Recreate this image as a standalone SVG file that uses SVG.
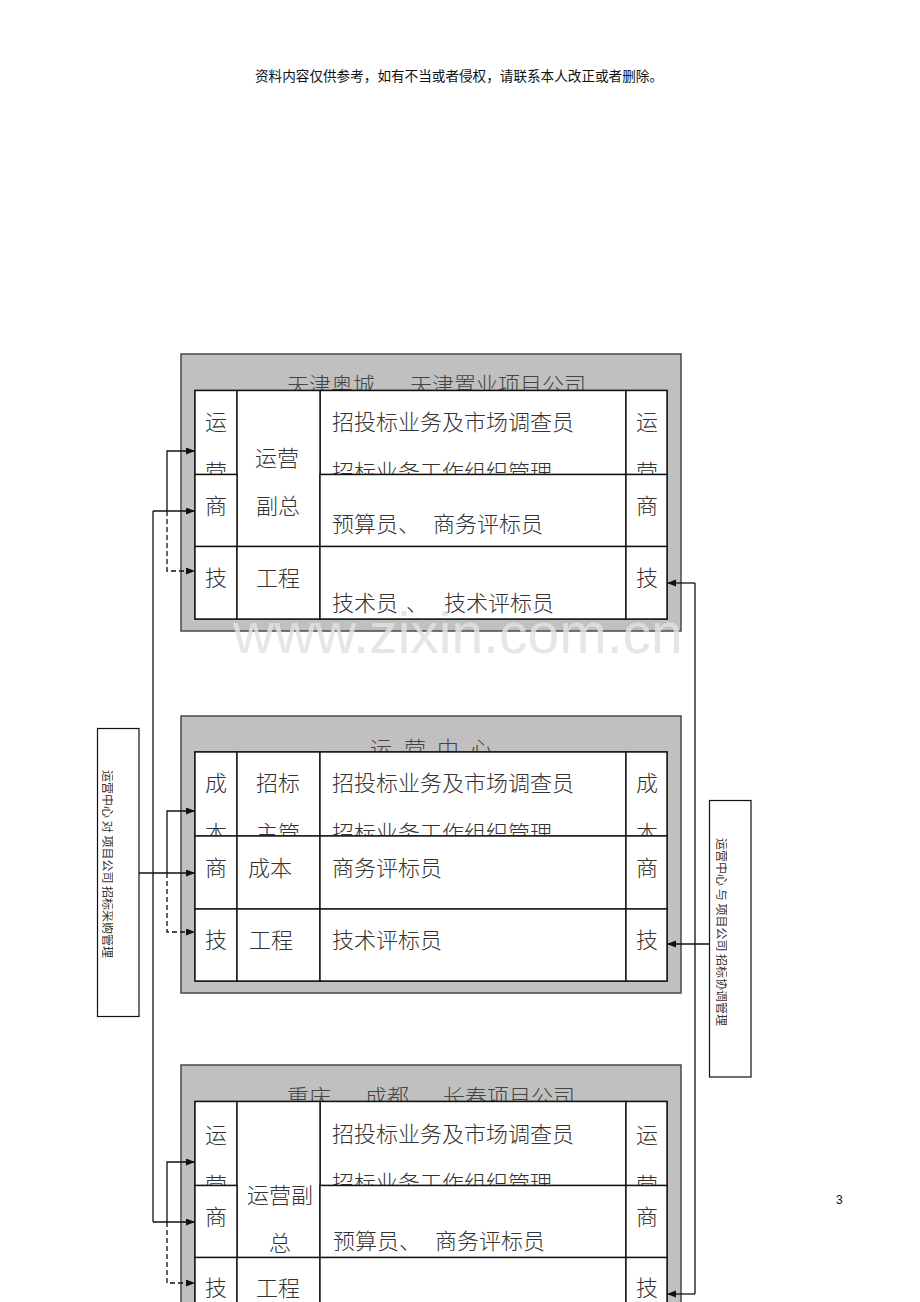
<svg xmlns="http://www.w3.org/2000/svg" width="920" height="1302" viewBox="0 0 920 1302">
<style>
.bg{fill:#ffffff}
.outer{fill:#c0c0c0;stroke:#4a4a4a;stroke-width:1.5}
.cell{fill:#ffffff;stroke:#111;stroke-width:1.4}
.t{font-family:"Noto Sans CJK SC","Noto Sans CJK JP",sans-serif;font-size:22px;fill:#333;font-weight:300}
.tt{font-family:"Noto Sans CJK SC","Noto Sans CJK JP",sans-serif;font-size:22px;fill:#444;font-weight:300}
.m{text-anchor:middle}
.hdr{font-family:"Noto Sans CJK SC","Noto Sans CJK JP",sans-serif;font-size:13.6px;fill:#111}
.box{fill:#ffffff;stroke:#111;stroke-width:1.2}
.vt{font-family:"Noto Sans CJK SC","Noto Sans CJK JP",sans-serif;font-size:12px;fill:#333}
.ln{fill:none;stroke:#111;stroke-width:1.3}
.dl{fill:none;stroke:#111;stroke-width:1.3;stroke-dasharray:5 3}
.wm{font-family:"Liberation Sans",Arial,sans-serif;font-size:57px;fill:#e2e2e2;opacity:0.85}
</style>
<defs>
<marker id="ar" markerUnits="userSpaceOnUse" markerWidth="10" markerHeight="8" refX="9" refY="3.5" orient="auto">
<path d="M0,0 L9,3.5 L0,7 z" fill="#111"/>
</marker>
<clipPath id="clipL"><rect x="102" y="740" width="11" height="260"/></clipPath>
<clipPath id="clipR"><rect x="716" y="810" width="11" height="260"/></clipPath>
</defs>
<rect class="bg" x="0" y="0" width="920" height="1302"/>

<text class="hdr" x="255" y="81" textLength="408">资料内容仅供参考，如有不当或者侵权，请联系本人改正或者删除。</text>
<text x="836" y="1204" style="font-family:'Liberation Sans',Arial,sans-serif;font-size:12px;fill:#111">3</text>

<!-- Block 1 -->
<g id="block-tianjin">
<rect class="outer" x="181" y="354" width="500" height="277"/>
<text class="tt" x="287" y="393">天津奥城</text>
<text class="tt" x="410" y="393">天津置业项目公司</text>
<rect class="cell" x="195" y="390.5" width="472" height="228.5"/>
<rect class="cell" x="195" y="390.5" width="42" height="84"/>
<text class="t m" x="216" y="430">运</text><text class="t m" x="216" y="480">营</text>
<rect class="cell" x="320" y="390.5" width="306" height="84"/>
<text class="t" x="332" y="430">招投标业务及市场调查员</text>
<text class="t" x="332" y="480">招标业务工作组织管理</text>
<rect class="cell" x="626" y="390.5" width="41" height="84"/>
<text class="t m" x="647" y="430">运</text><text class="t m" x="647" y="480">营</text>
<rect class="cell" x="237" y="390.5" width="83" height="156"/>
<text class="t m" x="277" y="466">运营</text><text class="t m" x="278" y="514">副总</text>
<rect class="cell" x="195" y="474.5" width="42" height="72"/>
<text class="t m" x="216" y="514">商</text>
<rect class="cell" x="320" y="474.5" width="306" height="72"/>
<text class="t" x="332" y="532">预算员、</text><text class="t" x="433" y="532">商务评标员</text>
<rect class="cell" x="626" y="474.5" width="41" height="72"/>
<text class="t m" x="647" y="514">商</text>
<rect class="cell" x="195" y="546.5" width="42" height="72.5"/>
<text class="t m" x="216" y="586">技</text>
<rect class="cell" x="237" y="546.5" width="83" height="72.5"/>
<text class="t m" x="278" y="586">工程</text>
<rect class="cell" x="320" y="546.5" width="306" height="72.5"/>
<text class="t" x="332" y="611">技术员</text><text class="t" x="406" y="611">、</text><text class="t" x="444" y="611">技术评标员</text>
<rect class="cell" x="626" y="546.5" width="41" height="72.5"/>
<text class="t m" x="647" y="586">技</text>
</g>

<!-- Block 2 -->
<g id="block-center">
<rect class="outer" x="181" y="716" width="500" height="277"/>
<text class="tt" x="370" y="757">运</text><text class="tt" x="404" y="757">营</text><text class="tt" x="437" y="757">中</text><text class="tt" x="470" y="757">心</text>
<rect class="cell" x="195" y="752" width="472" height="229"/>
<rect class="cell" x="195" y="752" width="42" height="84"/>
<text class="t m" x="216" y="791">成</text><text class="t m" x="216" y="841">本</text>
<rect class="cell" x="237" y="752" width="83" height="84"/>
<text class="t m" x="278" y="791">招标</text><text class="t m" x="278" y="841">主管</text>
<rect class="cell" x="320" y="752" width="306" height="84"/>
<text class="t" x="332" y="791">招投标业务及市场调查员</text>
<text class="t" x="332" y="841">招标业务工作组织管理</text>
<rect class="cell" x="626" y="752" width="41" height="84"/>
<text class="t m" x="647" y="791">成</text><text class="t m" x="647" y="841">本</text>
<rect class="cell" x="195" y="836" width="42" height="73"/>
<text class="t m" x="216" y="876">商</text>
<rect class="cell" x="237" y="836" width="83" height="73"/>
<text class="t" x="248" y="876">成本</text>
<rect class="cell" x="320" y="836" width="306" height="73"/>
<text class="t" x="332" y="876">商务评标员</text>
<rect class="cell" x="626" y="836" width="41" height="73"/>
<text class="t m" x="647" y="876">商</text>
<rect class="cell" x="195" y="909" width="42" height="72"/>
<text class="t m" x="216" y="948">技</text>
<rect class="cell" x="237" y="909" width="83" height="72"/>
<text class="t" x="249" y="948">工程</text>
<rect class="cell" x="320" y="909" width="306" height="72"/>
<text class="t" x="332" y="948">技术评标员</text>
<rect class="cell" x="626" y="909" width="41" height="72"/>
<text class="t m" x="647" y="948">技</text>
</g>

<!-- Block 3 -->
<g id="block-cq">
<rect class="outer" x="181" y="1065" width="500" height="260"/>
<text class="tt" x="287" y="1105">重庆</text><text class="tt" x="365" y="1105">成都</text><text class="tt" x="443" y="1105">长春项目公司</text>
<rect class="cell" x="195" y="1101.5" width="472" height="230"/>
<rect class="cell" x="195" y="1101.5" width="42" height="84"/>
<text class="t m" x="216" y="1143">运</text><text class="t m" x="216" y="1193">营</text>
<rect class="cell" x="320" y="1101.5" width="306" height="84"/>
<text class="t" x="332" y="1142">招投标业务及市场调查员</text>
<text class="t" x="332" y="1191">招标业务工作组织管理</text>
<rect class="cell" x="626" y="1101.5" width="41" height="84"/>
<text class="t m" x="647" y="1143">运</text><text class="t m" x="647" y="1193">营</text>
<rect class="cell" x="237" y="1101.5" width="83" height="156"/>
<text class="t m" x="280" y="1203">运营副</text><text class="t m" x="280" y="1251">总</text>
<rect class="cell" x="195" y="1185.5" width="42" height="72"/>
<text class="t m" x="216" y="1225">商</text>
<rect class="cell" x="320" y="1185.5" width="306" height="72"/>
<text class="t" x="333" y="1249">预算员、</text><text class="t" x="435" y="1249">商务评标员</text>
<rect class="cell" x="626" y="1185.5" width="41" height="72"/>
<text class="t m" x="647" y="1225">商</text>
<rect class="cell" x="195" y="1257.5" width="42" height="72"/>
<text class="t m" x="216" y="1296">技</text>
<rect class="cell" x="237" y="1257.5" width="83" height="72"/>
<text class="t m" x="278" y="1296">工程</text>
<rect class="cell" x="320" y="1257.5" width="306" height="72"/>
<rect class="cell" x="626" y="1257.5" width="41" height="72"/>
<text class="t m" x="647" y="1296">技</text>
</g>

<!-- Side boxes -->
<g id="box-left">
<rect class="box" x="97.5" y="728.5" width="41.5" height="288"/>
<g clip-path="url(#clipL)"><text class="vt" transform="translate(103,770) rotate(90)">运营中心 对 项目公司 招标采购管理</text></g>
</g>
<g id="box-right">
<rect class="box" x="709.5" y="800.5" width="41.5" height="276.5"/>
<g clip-path="url(#clipR)"><text class="vt" transform="translate(717,838) rotate(90)">运营中心 与 项目公司 招标协调管理</text></g>
</g>

<!-- Connectors -->
<g id="connectors">
<path class="ln" d="M153,511 V1222"/>
<path class="ln" d="M153,511 H195" marker-end="url(#ar)"/>
<path class="ln" d="M153,1222 H195" marker-end="url(#ar)"/>
<path class="ln" d="M167,511 V451 H195" marker-end="url(#ar)"/>
<path class="dl" d="M167,511 V571 H195" marker-end="url(#ar)"/>
<path class="ln" d="M139,873 H195" marker-end="url(#ar)"/>
<path class="ln" d="M167,873 V811 H195" marker-end="url(#ar)"/>
<path class="dl" d="M167,873 V932 H195" marker-end="url(#ar)"/>
<path class="ln" d="M167,1222 V1162 H195" marker-end="url(#ar)"/>
<path class="dl" d="M167,1222 V1283 H195" marker-end="url(#ar)"/>
<path class="ln" d="M695,583 V1294"/>
<path class="ln" d="M695,583 H667" marker-end="url(#ar)"/>
<path class="ln" d="M709,944 H667" marker-end="url(#ar)"/>
<path class="ln" d="M695,1294 H667" marker-end="url(#ar)"/>
</g>

<text class="wm" x="233" y="653">www.zixin.com.cn</text>
</svg>
